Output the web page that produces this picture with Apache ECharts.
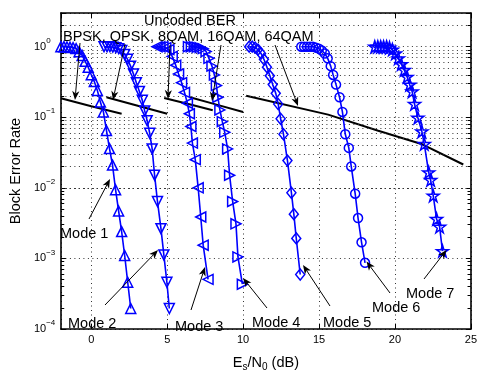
<!DOCTYPE html>
<html><head><meta charset="utf-8">
<script src="https://cdn.jsdelivr.net/npm/echarts@6/dist/echarts.min.js"></script>
<style>html,body{margin:0;padding:0;background:#fff}#c{width:480px;height:377px}</style>
</head><body><div id="c"></div>
<script>
// ---- data (Es/N0 in dB, block error rate) ----
const mode1X = [-2.0,-1.8,-1.6,-1.4,-1.2,-1.0,-0.8,-0.6,-0.4,-0.2,0.0,0.2,0.4,0.6,0.8,1.0,1.2,1.4,1.6,1.8,2.0,2.2,2.4,2.6];
const mode1Y = [1.0,1.0,0.99,0.98,0.97,0.94,0.85,0.75,0.62,0.51,0.40,0.32,0.24,0.164,0.119,0.065,0.036,0.021,0.0094,0.0047,0.0024,0.0011,0.00046,0.000195];
const mode2X = [0.84,1.04,1.23,1.42,1.62,1.81,2.01,2.20,2.39,2.59,2.78,2.97,3.17,3.36,3.52,3.68,3.85,4.01,4.17,4.36,4.59,4.78,4.98,5.14];
const mode2Y = [1.0,1.0,1.0,0.984,0.969,0.938,0.881,0.776,0.662,0.530,0.411,0.309,0.232,0.174,0.123,0.0895,0.0592,0.0356,0.0151,0.00641,0.00264,0.00112,0.000459,0.000195];
const mode3X = [4.33,4.52,4.72,4.91,5.11,5.33,5.56,5.75,5.95,6.14,6.33,6.46,6.56,6.66,6.85,7.04,7.21,7.37,7.69];
const mode3Y = [1.0,1.0,1.0,0.969,0.909,0.728,0.547,0.411,0.309,0.225,0.158,0.112,0.0740,0.0431,0.0251,0.0100,0.00386,0.00154,0.000505];
const mode4X = [6.40,6.59,6.79,6.98,7.17,7.37,7.56,7.75,7.95,8.11,8.24,8.34,8.47,8.63,8.79,8.98,9.11,9.31,9.53,9.66,9.95];
const mode4Y = [1.0,1.0,1.0,0.984,0.969,0.938,0.853,0.683,0.530,0.398,0.281,0.192,0.127,0.0867,0.0611,0.0356,0.0151,0.00641,0.00309,0.00105,0.000431];
const mode5X = [10.40,10.60,10.79,10.98,11.18,11.37,11.57,11.76,11.95,12.15,12.31,12.47,12.66,12.92,13.18,13.34,13.50,13.76];
const mode5Y = [1.0,1.0,0.969,0.909,0.801,0.662,0.513,0.386,0.290,0.218,0.154,0.0953,0.0574,0.0243,0.00853,0.00424,0.00192,0.000592];
const mode6X = [13.83,14.02,14.21,14.41,14.60,14.80,14.99,15.18,15.38,15.57,15.77,15.93,16.12,16.35,16.54,16.73,16.96,17.12,17.38,17.57,17.80,18.03];
const mode6Y = [1.0,1.0,1.0,1.0,1.0,0.969,0.938,0.881,0.801,0.683,0.530,0.398,0.290,0.192,0.119,0.0574,0.0368,0.0201,0.00826,0.00373,0.00169,0.000867];
const mode7X = [18.67,18.87,19.06,19.25,19.45,19.64,19.83,20.03,20.22,20.42,20.61,20.80,20.97,21.13,21.29,21.51,21.77,21.93,22.22,22.35,22.52,22.74,22.94,23.13];
const mode7Y = [1.0,1.0,1.0,1.0,1.0,0.969,0.909,0.801,0.683,0.565,0.467,0.374,0.290,0.232,0.154,0.0984,0.0631,0.0418,0.0166,0.0129,0.00776,0.00362,0.00281,0.00127];
// uncoded BER curves
const berBpskX = [-2, 0, 2],      berBpskY = [0.186, 0.143, 0.112];
const berQpskX = [1, 3, 5],       berQpskY = [0.192, 0.147, 0.112];
const ber8qamX = [4.8, 6.4, 8],   ber8qamY = [0.188, 0.154, 0.126];
const ber16qamX = [6.5, 8.25, 10], ber16qamY = [0.192, 0.151, 0.119];
const ber64qamX = [10.2, 15.6, 18.9, 21.8, 24.5], ber64qamY = [0.202, 0.109, 0.0645, 0.0414, 0.0214];
// axis
const xMin = -2, xMax = 25, yMin = 1e-4, yMax = 3;
const xTickLabels = [0, 5, 10, 15, 20, 25];
const yDecades = [-4, -3, -2, -1, 0];

const FONT = "'Liberation Sans', Arial, Helvetica, sans-serif";
const BLUE = '#0000ff';
const zip = (xs, ys) => xs.map((x, i) => [x, ys[i]]);

// minor grid values 2..9 x 10^n
const minorVals = [];
for (let n = -4; n <= 0; n++) for (let k = 2; k <= 9; k++) { const v = k * Math.pow(10, n); if (v < yMax) minorVals.push(v); }

const starPath = 'path://M50,0 L61.2,34.5 L97.6,34.5 L68.2,55.9 L79.4,90.5 L50,69.1 L20.6,90.5 L31.8,55.9 L2.4,34.5 L38.8,34.5 Z';

function modeSeries(name, xs, ys, symbol, size, rot) {
  return {
    name, type: 'line', data: zip(xs, ys), symbol, symbolSize: size, symbolRotate: rot || 0,
    showSymbol: true, lineStyle: { color: BLUE, width: 1.6 },
    itemStyle: { color: 'rgba(0,0,0,0)', borderColor: BLUE, borderWidth: 1.5 },
    z: 5, silent: true
  };
}
function berSeries(xs, ys) {
  return { type: 'line', data: zip(xs, ys), symbol: 'none', lineStyle: { color: '#000', width: 2 }, z: 4, silent: true };
}

// annotations (pixel layout)
const texts = [
  { t: 'Uncoded BER', x: 144, y: 20.5 },
  { t: 'BPSK, QPSK, 8QAM, 16QAM, 64QAM', x: 63, y: 36.5 },
  { t: 'Mode 1', x: 60, y: 234 },
  { t: 'Mode 2', x: 68, y: 323.5 },
  { t: 'Mode 3', x: 175, y: 327 },
  { t: 'Mode 4', x: 252, y: 323 },
  { t: 'Mode 5', x: 323, y: 322.5 },
  { t: 'Mode 6', x: 372, y: 308 },
  { t: 'Mode 7', x: 406, y: 293.5 }
];
const arrows = [
  [80, 43, 75, 100], [125, 44, 113, 100], [170, 45, 168, 99], [221, 45, 212, 101], [275, 45, 298, 106],
  [89, 219, 110, 179], [105, 305, 158, 250], [191, 310, 205, 267], [267, 308, 243, 278],
  [330, 306, 303, 265], [390, 293, 366.5, 261.5], [424, 279, 446.5, 250]
];
const graphics = [];
texts.forEach(o => graphics.push({
  type: 'text', silent: true, z: 100,
  style: { x: o.x, y: o.y, text: o.t, font: '14.5px ' + FONT, fill: '#000', align: 'left', verticalAlign: 'middle', textAlign: 'left', textVerticalAlign: 'middle' }
}));
arrows.forEach(a => {
  const [x1, y1, x2, y2] = a;
  const dx = x2 - x1, dy = y2 - y1, L = Math.hypot(dx, dy), ux = dx / L, uy = dy / L;
  const hl = 9, hw = 3.6, notch = 6.5;
  const bx = x2 - hl * ux, by = y2 - hl * uy;
  const nx = x2 - notch * ux, ny = y2 - notch * uy;
  graphics.push({ type: 'line', silent: true, z: 100, shape: { x1, y1, x2: nx, y2: ny }, style: { stroke: '#000', lineWidth: 1 } });
  graphics.push({ type: 'polygon', silent: true, z: 100, shape: { points: [[x2, y2], [bx - hw * uy, by + hw * ux], [nx, ny], [bx + hw * uy, by - hw * ux]] }, style: { fill: '#000' } });
});

const dotted = { color: '#333', width: 1, type: [1, 3.5] };
const axisLine = { show: true, onZero: false, lineStyle: { color: '#000', width: 1.6 } };
const tick = { inside: true, length: 5, lineStyle: { color: '#000', width: 1 } };

const option = {
  animation: false,
  backgroundColor: '#fff',
  grid: { left: 58, right: 4, top: 13, bottom: 39, containLabel: false },
  xAxis: [{
    type: 'value', min: xMin, max: xMax, position: 'bottom',
    axisLine, axisTick: tick,
    axisLabel: { showMinLabel: false, margin: 5, color: '#000', fontSize: 11, fontFamily: FONT,
      formatter: v => (xTickLabels.indexOf(v) >= 0 ? String(v) : '') },
    splitLine: { show: true, lineStyle: dotted },
    name: '{n|E}{sub|s}{n|/N}{sub|0}{n| (dB)}', nameLocation: 'middle', nameGap: 25,
    nameTextStyle: { rich: {
      n: { fontSize: 14.5, fontFamily: FONT, color: '#000', lineHeight: 18, verticalAlign: 'middle' },
      sub: { fontSize: 10, fontFamily: FONT, color: '#000', lineHeight: 10, verticalAlign: 'bottom' } } }
  }, {
    type: 'value', min: xMin, max: xMax, position: 'top',
    axisLine, axisTick: tick,
    axisLabel: { show: false }, splitLine: { show: false }
  }],
  yAxis: [{
    type: 'log', logBase: 10, min: yMin, max: yMax, position: 'left',
    axisLine, axisTick: tick,
    splitLine: { show: true, lineStyle: dotted },
    axisLabel: {
      margin: 27, align: 'left', color: '#000',
      formatter: v => {
        const l = Math.log10(v), e = Math.round(l);
        if (Math.abs(l - e) > 0.01 || yDecades.indexOf(e) < 0) return '';
        return '{b|10}{s|' + (e < 0 ? '\u2212' + (-e) : e) + '}';
      },
      rich: {
        b: { fontSize: 11, fontFamily: FONT, color: '#000', lineHeight: 20, verticalAlign: 'middle' },
        s: { fontSize: 8, fontFamily: FONT, color: '#000', lineHeight: 8, verticalAlign: 'top' }
      }
    },
    name: 'Block Error Rate', nameLocation: 'middle', nameGap: 34,
    nameTextStyle: { fontSize: 14.5, fontFamily: FONT, color: '#000' }
  }, {
    type: 'log', logBase: 10, min: yMin, max: yMax, position: 'right',
    axisLine, axisTick: tick,
    axisLabel: { show: false }, splitLine: { show: false }
  }],
  graphic: { elements: graphics },
  series: [
    { type: 'line', data: [], silent: true, z: 1,
      markLine: { silent: true, symbol: 'none', label: { show: false }, animation: false,
        lineStyle: dotted, data: minorVals.map(v => ({ yAxis: v })) } },
    { type: 'line', data: [], silent: true, z: 3,
      markLine: { silent: true, symbol: 'none', label: { show: false }, animation: false,
        lineStyle: { color: '#000', width: 1, type: 'solid' },
        data: minorVals.flatMap(v => [
          [{ coord: [xMin, v] }, { coord: [xMin + 0.22, v] }],
          [{ coord: [xMax - 0.22, v] }, { coord: [xMax, v] }]
        ]) } },
    berSeries(berBpskX, berBpskY),
    berSeries(berQpskX, berQpskY),
    berSeries(ber8qamX, ber8qamY),
    berSeries(ber16qamX, ber16qamY),
    berSeries(ber64qamX, ber64qamY),
    modeSeries('Mode 1', mode1X, mode1Y, 'triangle', 10, 0),
    modeSeries('Mode 2', mode2X, mode2Y, 'triangle', 10, 180),
    modeSeries('Mode 3', mode3X, mode3Y, 'triangle', 10, 90),
    modeSeries('Mode 4', mode4X, mode4Y, 'triangle', 10, -90),
    modeSeries('Mode 5', mode5X, mode5Y, 'diamond', [9, 11], 0),
    modeSeries('Mode 6', mode6X, mode6Y, 'circle', 9, 0),
    modeSeries('Mode 7', mode7X, mode7Y, starPath, 12, 0)
  ]
};
const chart = echarts.init(document.getElementById('c'), null, { renderer: 'canvas' });
chart.setOption(option);
</script>
</body></html>
